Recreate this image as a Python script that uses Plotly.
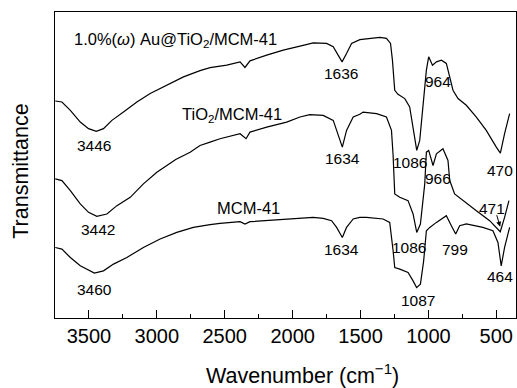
import plotly.graph_objects as go

# ---------------- data (wavenumber cm-1, transmittance a.u.) ----------------
au_wn = [3748, 3699, 3637, 3564, 3503, 3446, 3393, 3331, 3246, 3147, 3049, 2926, 2804, 2682,
         2608, 2485, 2387, 2351, 2314, 2191, 2069, 1946, 1848, 1750, 1701, 1665, 1636, 1603,
         1566, 1505, 1432, 1358, 1309, 1279, 1265, 1248, 1224, 1174, 1138, 1113, 1086, 1064,
         1040, 1015, 998, 970, 941, 904, 868, 843, 819, 782, 721, 647, 574, 500, 470, 439, 402]
au_t = [216.3, 215.3, 207, 195.3, 188.7, 186, 188.7, 197, 205.3, 215.3, 223.7, 232, 240.3, 246.5,
        249.5, 252, 255.3, 249.7, 256.3, 262, 267, 271, 274.3, 273.7, 270.3, 262, 255.3, 263.7,
        273.7, 277.5, 278.7, 279.7, 278.7, 273.7, 257, 227, 223, 218.7, 210.3, 190.3, 167, 177,
        213.7, 247, 260.3, 252, 255.3, 257, 253.7, 240.3, 227, 218.7, 212, 200.3, 187, 170.3,
        164.3, 183.7, 203.7]

ti_wn = [3748, 3699, 3637, 3564, 3503, 3442, 3368, 3294, 3196, 3099, 3000, 2861, 2755, 2706,
         2682, 2608, 2535, 2387, 2343, 2314, 2191, 2044, 1946, 1873, 1775, 1701, 1665, 1634,
         1603, 1554, 1505, 1481, 1382, 1309, 1272, 1260, 1248, 1211, 1150, 1113, 1086, 1059,
         1027, 1015, 998, 966, 941, 893, 856, 843, 807, 746, 647, 549, 471, 439, 407]
ti_t = [138.7, 137, 127, 113.7, 105.3, 101.3, 103.7, 112, 120.3, 133.7, 145.3, 158, 165.3, 170.3,
        172, 175.3, 178.7, 183.7, 178.7, 185.3, 190.3, 195.3, 200.3, 202.7, 202, 197, 183.7, 170.3,
        187, 200.3, 203, 205.3, 203.7, 200.3, 187, 162, 123.7, 120.3, 117, 103.7, 85.3, 93.7,
        133.7, 165.3, 167, 152, 163.7, 168.7, 157, 137, 123.7, 117, 107, 97, 86, 100.3, 117]

mcm_wn = [3748, 3699, 3637, 3564, 3460, 3393, 3319, 3221, 3099, 2976, 2853, 2731, 2608, 2535,
          2387, 2351, 2314, 2191, 1996, 1848, 1775, 1713, 1676, 1634, 1603, 1554, 1505, 1456,
          1334, 1285, 1260, 1248, 1211, 1150, 1113, 1087, 1059, 1035, 1015, 990, 941, 868, 831,
          799, 770, 721, 599, 525, 488, 464, 439, 402]
mcm_t = [70.3, 68.7, 60.3, 52, 44.7, 47, 53.7, 60.3, 70.3, 78.7, 85.3, 90.3, 93, 94.3,
         96, 93.7, 96, 97, 98.7, 100.3, 99.3, 97, 90.3, 80.3, 90.3, 98.7, 100.3, 100.3,
         98.7, 95.3, 67, 50.3, 48.7, 45.3, 37, 30.3, 33.7, 57, 87, 90.3, 95.3, 102, 92,
         83.7, 92, 93.7, 90.3, 87, 75.3, 52, 70.3, 90.3]

tick_vals = [3500, 3000, 2500, 2000, 1500, 1000, 500]
tick_text = ["3500", "3000", "2500", "2000", "1500", "1000", "500"]

series_names = ["1.0%(<i>ω</i>) Au@TiO<sub>2</sub>/MCM-41", "TiO<sub>2</sub>/MCM-41", "MCM-41"]
name_x = [3623, 2829, 2326]
name_y = [277.5, 202, 109.7]
name_anchor = ["left", "left", "center"]

peak_labels = ["3446", "3442", "3460", "1636", "1634", "1634", "1086", "964", "470",
               "966", "1086", "471", "799", "1087", "464"]
peak_x = [3461, 3435, 3461, 1646, 1634, 1640, 1137, 932, 470, 932, 1140, 531, 807, 1076, 473]
peak_y = [172, 88, 28.7, 243.7, 158.7, 68.7, 155.3, 235.3, 147, 138.7, 70.3, 108.7, 68.7, 17, 41]

x_title = "Wavenumber (cm<sup>−1</sup>)"
y_title = "Transmittance"

FONT = "Liberation Sans, Arial, sans-serif"

fig = go.Figure()
for wn, t in [(au_wn, au_t), (ti_wn, ti_t), (mcm_wn, mcm_t)]:
    fig.add_trace(go.Scatter(x=wn, y=t, mode="lines",
                             line=dict(color="black", width=1.2), showlegend=False,
                             hoverinfo="skip"))

for txt, x, y, anc in zip(series_names, name_x, name_y, name_anchor):
    fig.add_annotation(x=x, y=y, text=txt, showarrow=False, xanchor=anc, yanchor="middle",
                       font=dict(family=FONT, size=16.5, color="black"))

for txt, x, y in zip(peak_labels, peak_x, peak_y):
    fig.add_annotation(x=x, y=y, text=txt, showarrow=False, xanchor="center", yanchor="middle",
                       font=dict(family=FONT, size=15.5, color="black"))

# arrow pointing at the 471 band
fig.add_annotation(x=472, y=91, ax=500, ay=104, axref="x", ayref="y", text="",
                   showarrow=True, arrowhead=2, arrowsize=1, arrowwidth=1, arrowcolor="black")

# axis titles
fig.add_annotation(xref="paper", yref="paper", x=0.536, y=-0.184, text=x_title,
                   showarrow=False, xanchor="center", yanchor="middle",
                   font=dict(family=FONT, size=21.5, color="black"))
fig.add_annotation(xref="paper", yref="paper", x=-0.073, y=0.479, text=y_title,
                   showarrow=False, xanchor="center", yanchor="middle", textangle=-90,
                   font=dict(family=FONT, size=21.5, color="black"))

fig.update_layout(
    width=517, height=388, autosize=False,
    margin=dict(l=55, r=1, t=12, b=70, pad=0),
    paper_bgcolor="white", plot_bgcolor="white",
    font=dict(family=FONT, color="black"),
    xaxis=dict(range=[3750, 355], showgrid=False, zeroline=False,
               showline=True, linecolor="black", linewidth=1, mirror=True,
               ticks="inside", ticklen=8, tickwidth=1, tickcolor="black",
               tickvals=tick_vals, ticktext=tick_text,
               tickfont=dict(family=FONT, size=20, color="black"),
               minor=dict(ticks="inside", ticklen=4, tickwidth=1, tickcolor="black",
                          tickvals=[3750, 3250, 2750, 2250, 1750, 1250, 750])),
    yaxis=dict(range=[0, 305], showgrid=False, zeroline=False,
               showline=True, linecolor="black", linewidth=1, mirror=True,
               showticklabels=False, ticks=""),
)

fig.write_html("out.html", config={"displayModeBar": False},
               post_script="document.body.style.margin='0';document.body.style.overflow='hidden';")
